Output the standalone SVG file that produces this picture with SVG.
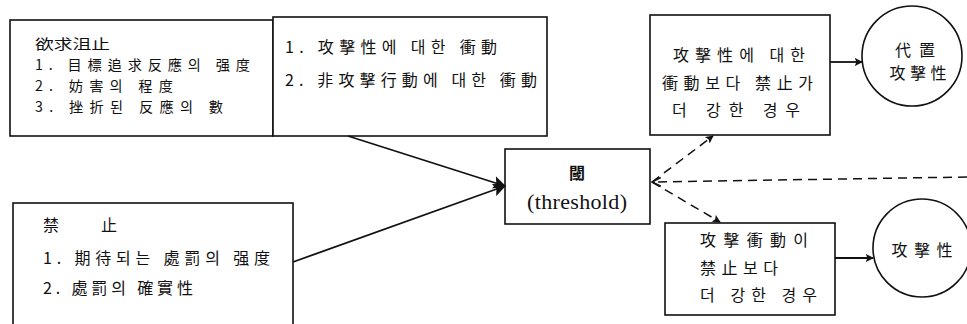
<svg xmlns="http://www.w3.org/2000/svg" width="967" height="324" viewBox="0 0 967 324">
<style>
.box{fill:#fff;stroke:#111;stroke-width:1.6}
.t{font-family:"Noto Sans CJK KR","Noto Sans",sans-serif;font-size:16px;fill:#111}
.t2{font-family:"Noto Sans CJK KR","Noto Sans",sans-serif;font-size:14.2px;fill:#111}
.s{font-family:"Liberation Serif",serif;font-size:22px;fill:#111}
.c{stroke:#111;stroke-width:1.8;fill:none}
.d{stroke:#111;stroke-width:1.5;fill:none;stroke-dasharray:9 6}
</style>
<defs>
<marker id="ah" viewBox="0 0 10 10" refX="9" refY="5" markerWidth="8" markerHeight="8" markerUnits="userSpaceOnUse" orient="auto">
<path d="M0,0 L10,5 L0,10 L2,5 z" fill="#111"/>
</marker>
<marker id="ahb" viewBox="0 0 10 10" refX="9" refY="5" markerWidth="13" markerHeight="13" markerUnits="userSpaceOnUse" orient="auto">
<path d="M0,0 L10,5 L0,10 L2,5 z" fill="#111"/>
</marker>
<marker id="ao" viewBox="0 0 10 10" refX="9" refY="5" markerWidth="11" markerHeight="11" markerUnits="userSpaceOnUse" orient="auto">
<path d="M1,1 L9,5 L1,9" fill="none" stroke="#111" stroke-width="1.4"/>
</marker>
</defs>
<g id="frustration">
<rect class="box" x="10" y="20" width="263" height="116"/>
<text class="t2" x="35" y="48.5" textLength="75" lengthAdjust="spacingAndGlyphs">欲求沮止</text>
<text class="t2" x="35" y="70" textLength="215">1. 目標追求反應의 强度</text>
<text class="t2" x="35" y="91" textLength="138">2. 妨害의 程度</text>
<text class="t2" x="35" y="112" textLength="188">3. 挫折된 反應의 數</text>
</g>
<g id="impulse">
<rect class="box" x="273" y="17" width="274" height="119"/>
<text class="t" x="285" y="53" textLength="212">1. 攻擊性에 대한 衝動</text>
<text class="t" x="285" y="86" textLength="252">2. 非攻擊行動에 대한 衝動</text>
</g>
<g id="inhibition">
<rect class="box" x="13" y="203" width="280" height="130"/>
<text class="t" x="43" y="231"><tspan x="43">禁</tspan><tspan x="101">止</tspan></text>
<text class="t" x="43" y="264" textLength="227">1. 期待되는 處罰의 强度</text>
<text class="t" x="43" y="294" textLength="150">2. 處罰의 確實性</text>
</g>
<g id="threshold">
<rect class="box" x="505" y="149" width="145" height="75"/>
<text class="t" x="577" y="179" text-anchor="middle" font-weight="bold">閾</text>
<text class="s" x="577" y="209" text-anchor="middle" textLength="100">(threshold)</text>
</g>
<g id="inhib-stronger">
<rect class="box" x="650" y="15" width="180" height="120"/>
<text class="t" x="673" y="61" textLength="132">攻擊性에 대한</text>
<text class="t" x="662" y="89" textLength="151">衝動보다 禁止가</text>
<text class="t" x="672" y="116" textLength="128">더 강한 경우</text>
</g>
<g id="displaced">
<circle class="box" cx="912" cy="56" r="50"/>
<text class="t" x="915" y="56" text-anchor="middle" textLength="40">代置</text>
<text class="t" x="918" y="79" text-anchor="middle" textLength="57">攻擊性</text>
</g>
<g id="impulse-stronger">
<rect class="box" x="665" y="223" width="170" height="92"/>
<text class="t" x="700" y="246" textLength="108">攻擊衝動이</text>
<text class="t" x="700" y="274" textLength="78">禁止보다</text>
<text class="t" x="700" y="301" textLength="117">더 강한 경우</text>
</g>
<g id="aggression">
<circle class="box" cx="922" cy="248" r="49"/>
<text class="t" x="922" y="256" text-anchor="middle" textLength="61">攻擊性</text>
</g>
<g id="connectors">
<line class="c" x1="348" y1="136" x2="505" y2="186" marker-end="url(#ahb)"/>
<line class="c" x1="293" y1="262" x2="505" y2="186" marker-end="url(#ahb)"/>
<line class="d" x1="652" y1="182" x2="713" y2="136" marker-end="url(#ah)"/>
<line class="d" x1="652" y1="182" x2="720" y2="222" marker-end="url(#ah)"/>
<line class="d" x1="967" y1="177" x2="652" y2="182" marker-end="url(#ao)"/>
<line class="c" stroke-width="1.3" x1="830" y1="62" x2="862" y2="62" marker-end="url(#ah)"/>
<line class="c" stroke-width="1.3" x1="835" y1="258" x2="873" y2="258" marker-end="url(#ah)"/>
</g>
</svg>
